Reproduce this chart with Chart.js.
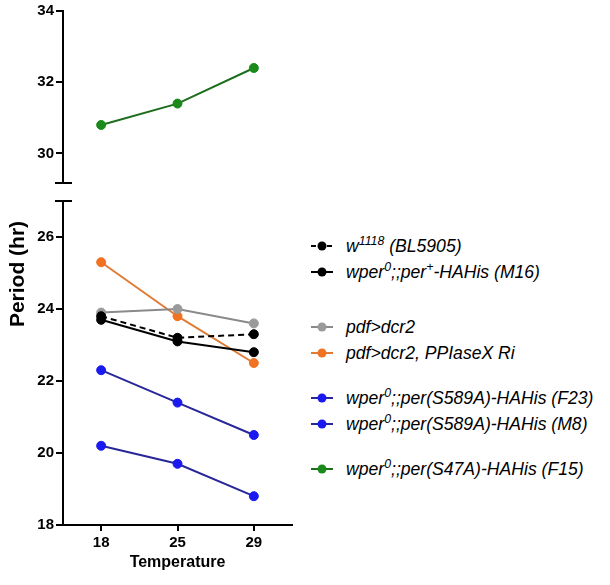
<!DOCTYPE html>
<html>
<head>
<meta charset="utf-8">
<script src="https://cdn.jsdelivr.net/npm/chart.js@4.4.1/dist/chart.umd.min.js"></script>
<style>
  body { margin: 0; background: #fff; }
  #wrap { position: relative; width: 610px; height: 585px; font-family: "Liberation Sans", Arial, sans-serif; }
  #grafico_alto { position: absolute; left: 0; top: 0; }
  #grafico_basso { position: absolute; left: 0; top: 190px; }
  #titolo_y {
    position: absolute; left: -83px; top: 261px; width: 200px; height: 26px;
    line-height: 26px; text-align: center;
    transform: rotate(-90deg);
    font-weight: bold; font-size: 21px; white-space: nowrap; color: #000;
  }
  #legenda { position: absolute; left: 310px; top: 233px; font-size: 17.6px; font-style: italic; color: #000; }
  .riga { height: 26px; line-height: 26px; white-space: nowrap; display: flex; align-items: center; }
  .riga svg { margin-right: 12px; }
  .gruppo1 { margin-top: 29px; }
  .gruppo2, .gruppo3 { margin-top: 19px; }
  sup { font-size: 0.7em; line-height: 0; }
</style>
</head>
<body>
<div id="wrap">
  <canvas id="grafico_alto" width="300" height="195"></canvas>
  <canvas id="grafico_basso" width="300" height="395"></canvas>
  <div id="titolo_y">Period (hr)</div>
  <div id="legenda"></div>
</div>
<script>
// dati
const TEMPERATURE = ["18", "25", "29"];

const NOMI_SERIE = [
  "w1118 (BL5905)",
  "wper0;;per+-HAHis (M16)",
  "pdf>dcr2",
  "pdf>dcr2, PPIaseX Ri",
  "wper0;;per(S589A)-HAHis (F23)",
  "wper0;;per(S589A)-HAHis (M8)",
  "wper0;;per(S47A)-HAHis (F15)"
];
const NOMI_LEGENDA = [
  "w<sup>1118</sup> (BL5905)",
  "wper<sup>0</sup>;;per<sup>+</sup>-HAHis (M16)",
  "pdf&gt;dcr2",
  "pdf&gt;dcr2, PPIaseX Ri",
  "wper<sup>0</sup>;;per(S589A)-HAHis (F23)",
  "wper<sup>0</sup>;;per(S589A)-HAHis (M8)",
  "wper<sup>0</sup>;;per(S47A)-HAHis (F15)"
];
const GRUPPI_LEGENDA = [0, 0, 1, 1, 2, 2, 3];

const W1118 = [23.8, 23.2, 23.3];
const M16 = [23.7, 23.1, 22.8];
const PDF_DCR2 = [23.9, 24.0, 23.6];
const PPIASE_RI = [25.3, 23.8, 22.5];
const S589A_F23 = [22.3, 21.4, 20.5];
const S589A_M8 = [20.2, 19.7, 18.8];
const S47A_F15 = [30.8, 31.4, 32.4];

const TICK_ALTO = [30, 32, 34];
const TICK_BASSO = [18, 20, 22, 24, 26];
const RANGE_ALTO = [29.17, 34];
const RANGE_BASSO = [18, 27];

// colori: linea, punto
const COLORI_LINEA = ["#000000", "#000000", "#8a8a8a", "#e07b35", "#27279a", "#27279a", "#1d6e1d"];
const COLORI_PUNTO = ["#000000", "#000000", "#9a9a9a", "#f07222", "#1a1af0", "#1a1af0", "#1a8a1a"];
const TRATTEGGI = [[6, 4], [], [], [], [], [], []];

const VALORI = [W1118, M16, PDF_DCR2, PPIASE_RI, S589A_F23, S589A_M8, S47A_F15];

const FONT_TICK = { family: "'Liberation Sans', Arial, sans-serif", size: 15, weight: "bold" };

function crea_dataset(i) {
  return {
    label: NOMI_SERIE[i],
    data: VALORI[i],
    borderColor: COLORI_LINEA[i],
    backgroundColor: COLORI_PUNTO[i],
    pointBorderColor: COLORI_PUNTO[i],
    pointBackgroundColor: COLORI_PUNTO[i],
    borderWidth: 2,
    borderDash: TRATTEGGI[i],
    pointRadius: 4.5,
    pointBorderWidth: 1,
    tension: 0
  };
}

// segno di interruzione dell'asse
function plugin_interruzione(lato) {
  return {
    id: "interruzione_" + lato,
    afterDraw(chart) {
      const ctx = chart.ctx;
      const area = chart.chartArea;
      const y = lato === "basso" ? area.bottom : area.top;
      ctx.save();
      ctx.strokeStyle = "#000";
      ctx.lineWidth = 2;
      ctx.beginPath();
      ctx.moveTo(area.left - 8, y);
      ctx.lineTo(area.left + 9, y);
      ctx.stroke();
      ctx.restore();
    }
  };
}

function asse_y(range, ticks) {
  return {
    min: range[0],
    max: range[1],
    afterBuildTicks: scale => { scale.ticks = ticks.map(v => ({ value: v })); },
    afterFit: scale => { scale.width = 63; },
    ticks: { color: "#000", font: FONT_TICK, padding: 2 },
    grid: { display: true, drawOnChartArea: false, drawTicks: true, tickLength: 7, color: "#000", lineWidth: 2 },
    border: { display: true, color: "#000", width: 2 }
  };
}

let grafico_alto = new Chart("grafico_alto", {
  type: "line",
  data: {
    labels: TEMPERATURE,
    datasets: [crea_dataset(6)]
  },
  options: {
    responsive: false,
    animation: false,
    layout: { padding: { top: 9, bottom: 12, right: 8, left: 0 } },
    plugins: { legend: { display: false }, tooltip: { enabled: false } },
    scales: {
      x: { display: false, offset: true },
      y: asse_y(RANGE_ALTO, TICK_ALTO)
    }
  },
  plugins: [plugin_interruzione("basso")]
});

let grafico_basso = new Chart("grafico_basso", {
  type: "line",
  data: {
    labels: TEMPERATURE,
    datasets: [0, 1, 2, 3, 4, 5].map(crea_dataset)
  },
  options: {
    responsive: false,
    animation: false,
    layout: { padding: { top: 10, bottom: 9, right: 8, left: 0 } },
    plugins: { legend: { display: false }, tooltip: { enabled: false } },
    scales: {
      x: {
        offset: true,
        afterFit: scale => { scale.height = 51; },
        ticks: { color: "#000", font: FONT_TICK, padding: 3, maxRotation: 0 },
        grid: { display: true, drawOnChartArea: false, drawTicks: true, tickLength: 6, color: "#000", lineWidth: 2, offset: false },
        border: { display: true, color: "#000", width: 2 },
        title: {
          display: true,
          text: "Temperature",
          color: "#000",
          font: { family: "'Liberation Sans', Arial, sans-serif", size: 16, weight: "bold" },
          padding: { top: 0, bottom: 4 }
        }
      },
      y: asse_y(RANGE_BASSO, TICK_BASSO)
    }
  },
  plugins: [plugin_interruzione("alto")]
});

// legenda html (serve per gli apici)
const legenda = document.getElementById("legenda");
for (let i = 0; i < NOMI_LEGENDA.length; i++) {
  const riga = document.createElement("div");
  riga.className = "riga";
  if (i > 0 && GRUPPI_LEGENDA[i] !== GRUPPI_LEGENDA[i - 1]) {
    riga.classList.add("gruppo" + GRUPPI_LEGENDA[i]);
  }
  const tratto = TRATTEGGI[i].length ? ' stroke-dasharray="5,3"' : "";
  riga.innerHTML =
    '<svg width="24" height="12"><line x1="1" y1="6" x2="23" y2="6" stroke="' + COLORI_LINEA[i] +
    '" stroke-width="2"' + tratto + '/><circle cx="12" cy="6" r="4.5" fill="' + COLORI_PUNTO[i] + '"/></svg>' +
    "<span>" + NOMI_LEGENDA[i] + "</span>";
  legenda.appendChild(riga);
}
</script>
</body>
</html>
